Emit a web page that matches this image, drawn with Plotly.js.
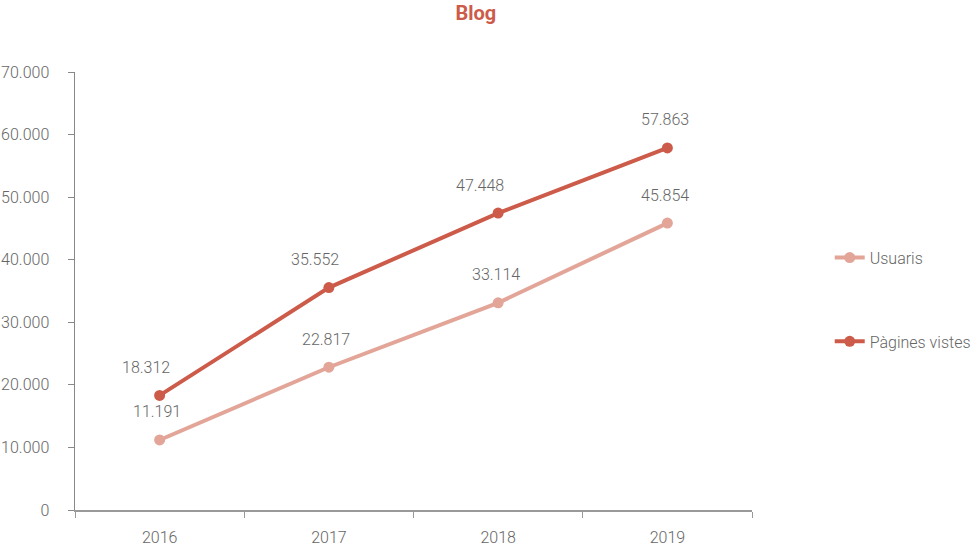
<!DOCTYPE html>
<html>
<head>
<meta charset="utf-8">
<script src="https://cdn.plot.ly/plotly-3.0.1.min.js"></script>
<style>html,body{margin:0;padding:0;background:#fff;}#chart{width:975px;height:549px;}</style>
</head>
<body>
<div id="chart"></div>
<script>
const years = ['2016', '2017', '2018', '2019'];
const usuaris = [11191, 22817, 33114, 45854];
const pagines = [18312, 35552, 47448, 57863];
const seriesNames = ['Usuaris', 'Pàgines vistes'];
const yTicks = [0, 10000, 20000, 30000, 40000, 50000, 60000, 70000];

// label placement tweaks (style only, pixels)
const usuarisLabelDx = [-3, -3, -2, -2];
const paginesLabelDx = [-14, -14, -18, -2];

const colUsuaris = '#e2a598';
const colPagines = '#cd5b4a';
const textCol = '#666666';

function fmt(v) {
  const s = String(Math.round(v));
  return s.replace(/\B(?=(\d{3})+(?!\d))/g, '.');
}

const traces = [
  {x: years, y: usuaris, name: seriesNames[0], type: 'scatter', mode: 'lines+markers',
   line: {color: colUsuaris, width: 4}, marker: {color: colUsuaris, size: 11},
   legendgroup: 'a', hoverinfo: 'skip'},
  {x: years, y: pagines, name: seriesNames[1], type: 'scatter', mode: 'lines+markers',
   line: {color: colPagines, width: 4}, marker: {color: colPagines, size: 11},
   legendgroup: 'b', hoverinfo: 'skip'}
];

const annotations = [];
[[usuaris, usuarisLabelDx, 28], [pagines, paginesLabelDx, 28]].forEach(([arr, dx, dy]) => {
  arr.forEach((v, i) => {
    annotations.push({x: i, y: v, xref: 'x', yref: 'y', text: fmt(v),
      showarrow: false, yshift: dy, xshift: dx[i],
      font: {family: 'Roboto', size: 16, color: textCol, weight: 300}});
  });
});

const layout = {
  width: 975, height: 549,
  margin: {l: 75, r: 223, t: 72, b: 39, autoexpand: false},
  paper_bgcolor: '#fff', plot_bgcolor: '#fff',
  separators: ',.',
  font: {family: 'Roboto', size: 16, color: textCol, weight: 300},
  title: {text: '<b>Blog</b>', x: 0.488, xanchor: 'center', y: 0.977, yanchor: 'middle',
          font: {family: 'Roboto', size: 20, color: colPagines}},
  xaxis: {type: 'category', range: [-0.5, 3.5], showgrid: false, zeroline: false,
          showline: true, linecolor: '#999', linewidth: 1.5,
          ticks: 'outside', tickson: 'boundaries', ticklen: 6, tickcolor: '#999',
          ticklabelstandoff: 12,
          tickfont: {family: 'Roboto', size: 16, color: textCol, weight: 300}},
  yaxis: {range: [0, 70000], tickvals: yTicks, tickformat: ',d', showgrid: false, zeroline: false,
          showline: true, linecolor: '#888', linewidth: 1.5,
          ticks: 'outside', ticklen: 6, tickcolor: '#888',
          ticklabelstandoff: 15,
          tickfont: {family: 'Roboto', size: 16, color: textCol, weight: 300}},
  legend: {xref: 'container', yref: 'container', x: 0.851, xanchor: 'left', y: 0.5617, yanchor: 'top',
           traceorder: 'grouped', tracegroupgap: 60,
           font: {family: 'Roboto', size: 16, color: textCol, weight: 300}},
  annotations: annotations,
  showlegend: true
};

Plotly.newPlot('chart', traces, layout, {displayModeBar: false, staticPlot: true});
</script>
</body>
</html>
